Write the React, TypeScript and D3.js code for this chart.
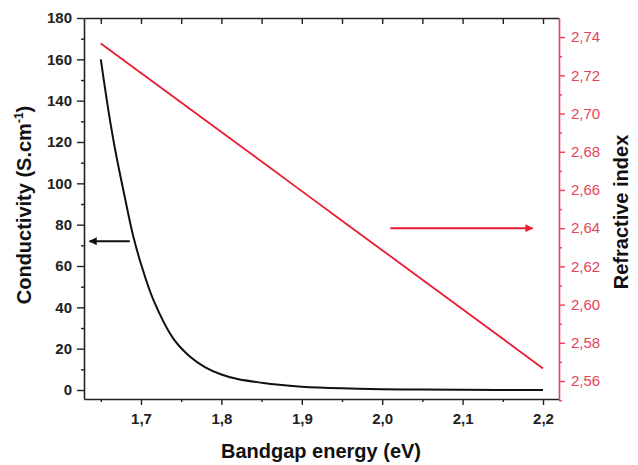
import React, { useRef, useEffect } from 'react';
import * as d3 from "d3";

// constants
const width = 638;
const height = 465;
const margin = { top: 18, right: 79, bottom: 66, left: 84 };
const font = "'Liberation Sans', Arial, sans-serif";
const red = "#ea1d35";
const redAxis = "#e8425a";

// data
const energy = [1.65, 1.66, 1.668, 1.68, 1.69, 1.70, 1.715, 1.74, 1.76, 1.78, 1.80, 1.82, 1.85, 1.875, 1.90, 1.95, 2.00, 2.05, 2.10, 2.15, 2.20];
const conductivity = [160, 134, 116, 93, 75, 61, 44, 25, 16.5, 11, 7.5, 5.3, 3.5, 2.4, 1.6, 0.8, 0.4, 0.2, 0.1, 0.05, 0.02];
const energyN = [1.65, 1.70, 1.75, 1.80, 1.85, 1.90, 1.95, 2.00, 2.05, 2.10, 2.15, 2.20];
const refractive = [2.7367, 2.7212, 2.7058, 2.6903, 2.6749, 2.6594, 2.6439, 2.6285, 2.6130, 2.5976, 2.5821, 2.5666];

const xTicks = [1.7, 1.8, 1.9, 2.0, 2.1, 2.2];
const xMinor = [1.65, 1.75, 1.85, 1.95, 2.05, 2.15];
const leftTicks = [0, 20, 40, 60, 80, 100, 120, 140, 160, 180];
const leftMinor = [10, 30, 50, 70, 90, 110, 130, 150, 170];
const rightTicks = [2.56, 2.58, 2.60, 2.62, 2.64, 2.66, 2.68, 2.70, 2.72, 2.74];
const rightMinor = [2.55, 2.57, 2.59, 2.61, 2.63, 2.65, 2.67, 2.69, 2.71, 2.73];

// annotation arrows, in data units
const leftArrow = { y: 72, from: 1.686, to: 1.636 };
const rightArrow = { y: 2.64, from: 2.01, to: 2.187 };

const comma = (f: string) => (d: number) => d3.format(f)(d).replace(".", ",");

const App = () => {
  const x = d3.scaleLinear().domain([1.6291, 2.2199]).range([margin.left, width - margin.right]);
  const yL = d3.scaleLinear().domain([-4.35, 180]).range([height - margin.bottom, margin.top]);
  const yR = d3.scaleLinear().domain([2.5506, 2.75]).range([height - margin.bottom, margin.top]);

  const bottomRef = useRef<SVGGElement>(null);
  const bottomMinorRef = useRef<SVGGElement>(null);
  const topRef = useRef<SVGGElement>(null);
  const leftRef = useRef<SVGGElement>(null);
  const leftMinorRef = useRef<SVGGElement>(null);
  const rightRef = useRef<SVGGElement>(null);
  const rightMinorRef = useRef<SVGGElement>(null);

  useEffect(() => {
    const style = (g: any, color: string, bold: boolean) => {
      g.select(".domain").attr("stroke", color).attr("stroke-width", 1.6);
      g.selectAll(".tick line").attr("stroke", color).attr("stroke-width", 1.4);
      g.selectAll(".tick text")
        .attr("fill", color)
        .style("font-family", font)
        .style("font-size", "15px")
        .style("font-weight", bold ? "bold" : "normal");
    };

    d3.select(bottomRef.current)
      .call(d3.axisBottom(x).tickValues(xTicks).tickSize(6).tickSizeOuter(0).tickPadding(8).tickFormat(comma(".1f") as any))
      .call((g: any) => style(g, "#222", true));
    d3.select(bottomMinorRef.current)
      .call(d3.axisBottom(x).tickValues(xMinor).tickSize(3).tickFormat(() => ""))
      .call((g: any) => { g.select(".domain").remove(); style(g, "#222", true); });
    d3.select(topRef.current)
      .call(d3.axisTop(x).tickValues([...xTicks, ...xMinor]).tickSize(-6).tickSizeOuter(0).tickFormat(() => ""))
      .call((g: any) => style(g, "#222", true));

    d3.select(leftRef.current)
      .call(d3.axisLeft(yL).tickValues(leftTicks).tickSize(7).tickSizeOuter(0).tickPadding(5))
      .call((g: any) => style(g, "#222", true));
    d3.select(leftMinorRef.current)
      .call(d3.axisLeft(yL).tickValues(leftMinor).tickSize(3).tickFormat(() => ""))
      .call((g: any) => { g.select(".domain").remove(); style(g, "#222", true); });

    d3.select(rightRef.current)
      .call(d3.axisRight(yR).tickValues(rightTicks).tickSize(6).tickSizeOuter(0).tickPadding(6).tickFormat(comma(".2f") as any))
      .call((g: any) => style(g, redAxis, false));
    d3.select(rightMinorRef.current)
      .call(d3.axisRight(yR).tickValues(rightMinor).tickSize(3).tickFormat(() => ""))
      .call((g: any) => { g.select(".domain").remove(); style(g, redAxis, false); });
  }, []);

  const condLine = d3.line<number>()
    .x((d, i) => x(energy[i]))
    .y(d => yL(d))
    .curve(d3.curveCatmullRom.alpha(0.5))(conductivity);
  const nLine = d3.line<number>()
    .x((d, i) => x(energyN[i]))
    .y(d => yR(d))(refractive);

  const bottom = height - margin.bottom;
  const right = width - margin.right;

  return (
    <svg width={width} height={height} style={{ position: "absolute", left: 0, top: 0, background: "#fff" }}>
      <defs>
        <marker id="headK" viewBox="0 0 10 10" refX="9" refY="5" markerWidth="5" markerHeight="4" orient="auto" markerUnits="strokeWidth">
          <path d="M0,0 L10,5 L0,10 Z" fill="#111" />
        </marker>
        <marker id="headR" viewBox="0 0 10 10" refX="9" refY="5" markerWidth="5" markerHeight="4" orient="auto" markerUnits="strokeWidth">
          <path d="M0,0 L10,5 L0,10 Z" fill={red} />
        </marker>
      </defs>

      <path d={nLine || ""} fill="none" stroke={red} strokeWidth={1.8} />
      <path d={condLine || ""} fill="none" stroke="#111" strokeWidth={2} />

      <line x1={x(leftArrow.from)} x2={x(leftArrow.to)} y1={yL(leftArrow.y)} y2={yL(leftArrow.y)}
        stroke="#111" strokeWidth={2} markerEnd="url(#headK)" />
      <line x1={x(rightArrow.from)} x2={x(rightArrow.to)} y1={yR(rightArrow.y)} y2={yR(rightArrow.y)}
        stroke={red} strokeWidth={2} markerEnd="url(#headR)" />

      <g ref={topRef} transform={`translate(0,${margin.top})`} />
      <g ref={bottomRef} transform={`translate(0,${bottom})`} />
      <g ref={bottomMinorRef} transform={`translate(0,${bottom})`} />
      <g ref={leftRef} transform={`translate(${margin.left},0)`} />
      <g ref={leftMinorRef} transform={`translate(${margin.left},0)`} />
      <g ref={rightRef} transform={`translate(${right},0)`} />
      <g ref={rightMinorRef} transform={`translate(${right},0)`} />

      <text x={321} y={458} textAnchor="middle" fontFamily={font} fontWeight="bold" fontSize={20} fill="#111">
        Bandgap energy (eV)
      </text>
      <text transform={`translate(31,205) rotate(-90)`} textAnchor="middle" fontFamily={font} fontWeight="bold" fontSize={20} fill="#111">
        Conductivity (S.cm<tspan dy={-8} fontSize={12}>-1</tspan><tspan dy={8}>)</tspan>
      </text>
      <text transform={`translate(628,212) rotate(-90)`} textAnchor="middle" fontFamily={font} fontWeight="bold" fontSize={20} fill="#111">
        Refractive index
      </text>
    </svg>
  );
};

export default App;
